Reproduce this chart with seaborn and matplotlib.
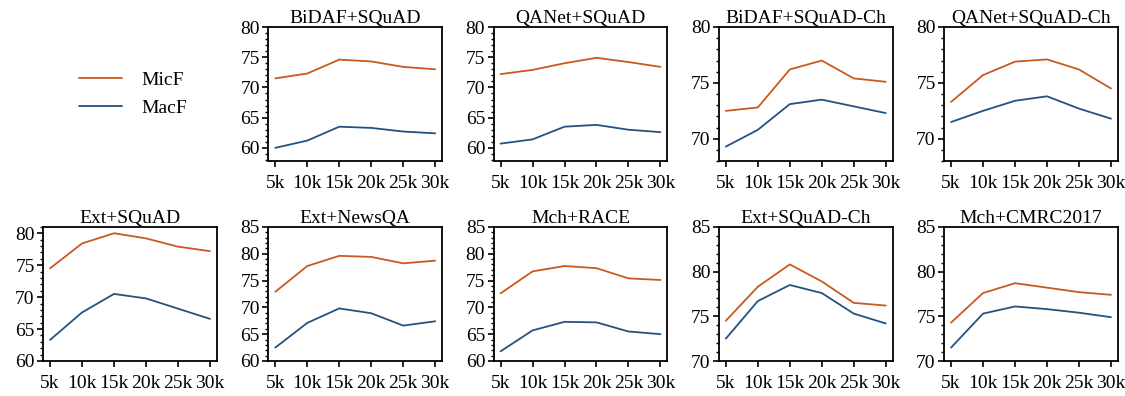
import numpy as np
import pandas as pd
import matplotlib
matplotlib.use("Agg")
import matplotlib.pyplot as plt
from matplotlib.ticker import MultipleLocator
from matplotlib.lines import Line2D
import seaborn as sns

sizes = [5, 10, 15, 20, 25, 30]
size_labels = ["5k", "10k", "15k", "20k", "25k", "30k"]

titles = ["BiDAF+SQuAD", "QANet+SQuAD", "BiDAF+SQuAD-Ch", "QANet+SQuAD-Ch",
          "Ext+SQuAD", "Ext+NewsQA", "Mch+RACE", "Ext+SQuAD-Ch", "Mch+CMRC2017"]

micf = [
    [71.5, 72.3, 74.6, 74.3, 73.4, 73.0],
    [72.2, 72.9, 74.0, 74.9, 74.2, 73.4],
    [72.5, 72.8, 76.2, 77.0, 75.4, 75.1],
    [73.3, 75.7, 76.9, 77.1, 76.2, 74.5],
    [74.5, 78.4, 80.0, 79.2, 77.9, 77.2],
    [72.9, 77.7, 79.6, 79.4, 78.2, 78.7],
    [72.6, 76.7, 77.7, 77.3, 75.4, 75.1],
    [74.5, 78.3, 80.8, 78.9, 76.5, 76.2],
    [74.3, 77.6, 78.7, 78.2, 77.7, 77.4],
]
macf = [
    [60.0, 61.2, 63.5, 63.3, 62.7, 62.4],
    [60.7, 61.4, 63.5, 63.8, 63.0, 62.6],
    [69.3, 70.8, 73.1, 73.5, 72.9, 72.3],
    [71.5, 72.5, 73.4, 73.8, 72.7, 71.8],
    [63.3, 67.6, 70.5, 69.8, 68.2, 66.6],
    [62.5, 67.1, 69.8, 68.9, 66.6, 67.4],
    [61.8, 65.7, 67.3, 67.2, 65.5, 65.0],
    [72.5, 76.7, 78.5, 77.6, 75.3, 74.2],
    [71.5, 75.3, 76.1, 75.8, 75.4, 74.9],
]
ylims = [(57.8, 80), (57.8, 80), (68, 80), (68, 80),
         (60, 81), (60, 85), (60, 85), (70, 85), (70, 85)]

colors = {"MicF": "#c95a1f", "MacF": "#24527f"}

sns.set_style("ticks", {"axes.edgecolor": "black", "xtick.color": "black",
                        "ytick.color": "black", "text.color": "black"})
plt.rcParams["font.family"] = ["Liberation Serif", "DejaVu Serif"]
plt.rcParams["font.size"] = 14

fig, axes = plt.subplots(2, 5, figsize=(11.25, 3.96), dpi=100)
fig.subplots_adjust(left=43 / 1125, right=1118 / 1125, top=1 - 27 / 396,
                    bottom=1 - 361 / 396, wspace=0.295, hspace=0.49)

panel_axes = list(axes[0, 1:]) + list(axes[1, :])
for i, ax in enumerate(panel_axes):
    df = pd.DataFrame({
        "size": sizes * 2,
        "score": micf[i] + macf[i],
        "metric": ["MicF"] * 6 + ["MacF"] * 6,
    })
    sns.lineplot(data=df, x="size", y="score", hue="metric", palette=colors,
                 ax=ax, linewidth=1.3, legend=False)
    ax.set_title(titles[i], fontsize=14, pad=3, color="black")
    ax.set_xlabel("")
    ax.set_ylabel("")
    ax.set_xticks(sizes)
    ax.set_xticklabels(size_labels)
    ax.set_xlim(3.9, 31.1)
    ax.set_ylim(*ylims[i])
    ax.yaxis.set_major_locator(MultipleLocator(5))
    ax.yaxis.set_minor_locator(MultipleLocator(1))
    ax.tick_params(axis="both", which="major", labelsize=14, length=4,
                   width=1.2, labelcolor="black")
    ax.tick_params(axis="x", pad=6)
    ax.tick_params(axis="y", pad=2)
    ax.tick_params(axis="y", which="minor", length=2.5, width=1.0)
    for sp in ax.spines.values():
        sp.set_linewidth(1.3)
        sp.set_color("black")

leg_ax = axes[0, 0]
leg_ax.axis("off")
handles = [Line2D([0], [0], color=colors["MicF"], lw=1.3),
           Line2D([0], [0], color=colors["MacF"], lw=1.3)]
leg_ax.legend(handles, ["MicF", "MacF"], loc="center", frameon=False,
              fontsize=14, bbox_to_anchor=(0.52, 0.5), handlelength=2.2,
              handletextpad=1.0, labelspacing=0.55)

fig.savefig("out.png", dpi=100)
